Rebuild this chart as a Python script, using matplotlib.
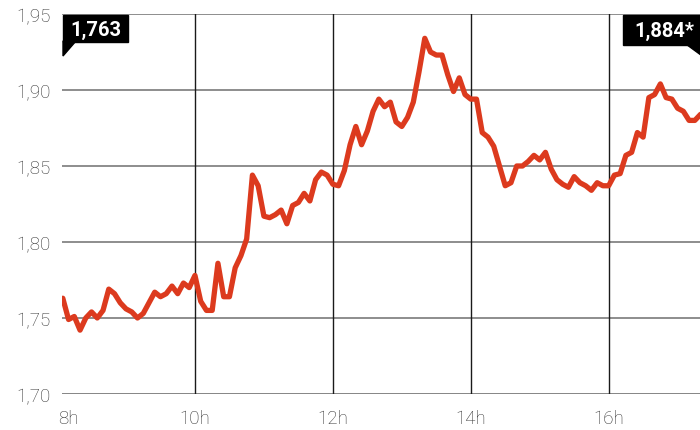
import numpy as np
import matplotlib.pyplot as plt
from matplotlib.patches import Polygon, Rectangle

# minutos desde las 8h
minutos = np.array([
    5, 10, 15, 20, 25, 30, 35, 40, 45, 50, 55, 60,
    65, 70, 75, 80, 85, 90, 95, 100, 105, 110, 115, 120,
    125, 130, 135, 140, 145, 150, 155, 160, 165, 170, 175, 180,
    185, 190, 195, 200, 205, 210, 215, 220, 225, 230, 235, 240,
    245, 250, 255, 260, 265, 270, 275, 280, 285, 290, 295, 300,
    305, 310, 315, 320, 325, 330, 335, 340, 345, 350, 355, 360,
    365, 370, 375, 380, 385, 390, 395, 400, 405, 410, 415, 420,
    425, 430, 435, 440, 445, 450, 455, 460, 465, 470, 475, 480,
    485, 490, 495, 500, 505, 510, 515, 520, 525, 530, 535, 540,
    545, 550, 555, 560])

valores = np.array([
    1.763, 1.749, 1.751, 1.742, 1.750, 1.754, 1.750, 1.755, 1.769, 1.766, 1.760, 1.756,
    1.754, 1.750, 1.753, 1.760, 1.767, 1.764, 1.766, 1.771, 1.766, 1.773, 1.770, 1.778,
    1.761, 1.755, 1.755, 1.786, 1.764, 1.764, 1.783, 1.791, 1.802, 1.844, 1.837, 1.817,
    1.816, 1.818, 1.821, 1.812, 1.824, 1.826, 1.832, 1.827, 1.841, 1.846, 1.844, 1.838,
    1.837, 1.847, 1.864, 1.876, 1.864, 1.873, 1.886, 1.894, 1.889, 1.892, 1.879, 1.876,
    1.882, 1.892, 1.912, 1.934, 1.925, 1.923, 1.923, 1.910, 1.899, 1.908, 1.897, 1.894,
    1.894, 1.872, 1.869, 1.863, 1.850, 1.837, 1.839, 1.850, 1.850, 1.853, 1.857, 1.854,
    1.859, 1.848, 1.841, 1.838, 1.836, 1.843, 1.839, 1.837, 1.834, 1.839, 1.837, 1.837,
    1.844, 1.845, 1.857, 1.859, 1.872, 1.869, 1.895, 1.897, 1.904, 1.895, 1.894, 1.888,
    1.886, 1.880, 1.880, 1.884])

yticks = [1.70, 1.75, 1.80, 1.85, 1.90, 1.95]
xticks = [10, 120, 240, 360, 480]
xlabels = ['8h', '10h', '12h', '14h', '16h']

def coma(v):
    return f"{v:.2f}".replace('.', ',')

fig = plt.figure(figsize=(7, 4.31), dpi=100)
ax = fig.add_axes([62/700, 36/431, 638/700, 380/431])

# lineas guia
for yv in yticks:
    ax.axhline(yv, color='#7a7a7a', lw=2.0 if yv == yticks[0] else 1.2, zorder=1)
for xv in xticks[1:]:
    ax.axvline(xv, color='#1a1a1a', lw=1.0, zorder=1)

ax.plot(minutos, valores, color='#dc3a1e', lw=3.8, solid_joinstyle='round',
        solid_capstyle='round', zorder=3)

ax.set_xlim(4.3, 559.5)
ax.set_ylim(1.70, 1.95)
ax.set_yticks(yticks)
ax.set_yticklabels([coma(v) for v in yticks])
ax.set_xticks(xticks)
ax.set_xticklabels(xlabels)
ax.tick_params(axis='y', length=0, pad=8, labelsize=13.5, labelcolor='#333333')
ax.tick_params(axis='x', length=0, pad=11, labelsize=13.5, labelcolor='#333333')
for lab in ax.get_xticklabels() + ax.get_yticklabels():
    lab.set_fontfamily('Roboto')
    lab.set_fontweight('light')
for s in ax.spines.values():
    s.set_visible(False)

# etiquetas de inicio y cierre
over = fig.add_axes([0, 0, 1, 1])
over.set_xlim(0, 700)
over.set_ylim(431, 0)
over.axis('off')

ini = f"{valores[0]:.3f}".replace('.', ',')
fin = f"{valores[-1]:.3f}".replace('.', ',') + '*'

over.add_patch(Rectangle((63, 15.5), 65, 27, color='black', zorder=5))
over.add_patch(Polygon([(63, 42), (76, 42), (63, 57)], closed=True, color='black', zorder=5))
over.text(95.5, 30, ini, color='white', fontsize=14.5, fontweight='bold',
          family='Roboto', ha='center', va='center', zorder=6)

over.add_patch(Rectangle((623, 15.5), 90, 30, color='black', zorder=5))
over.add_patch(Polygon([(686, 45), (712, 45), (712, 64)], closed=True, color='black', zorder=5))
over.text(664, 31, fin, color='white', fontsize=14.5, fontweight='bold',
          family='Roboto', ha='center', va='center', zorder=6)

plt.savefig('out.png', dpi=100)
